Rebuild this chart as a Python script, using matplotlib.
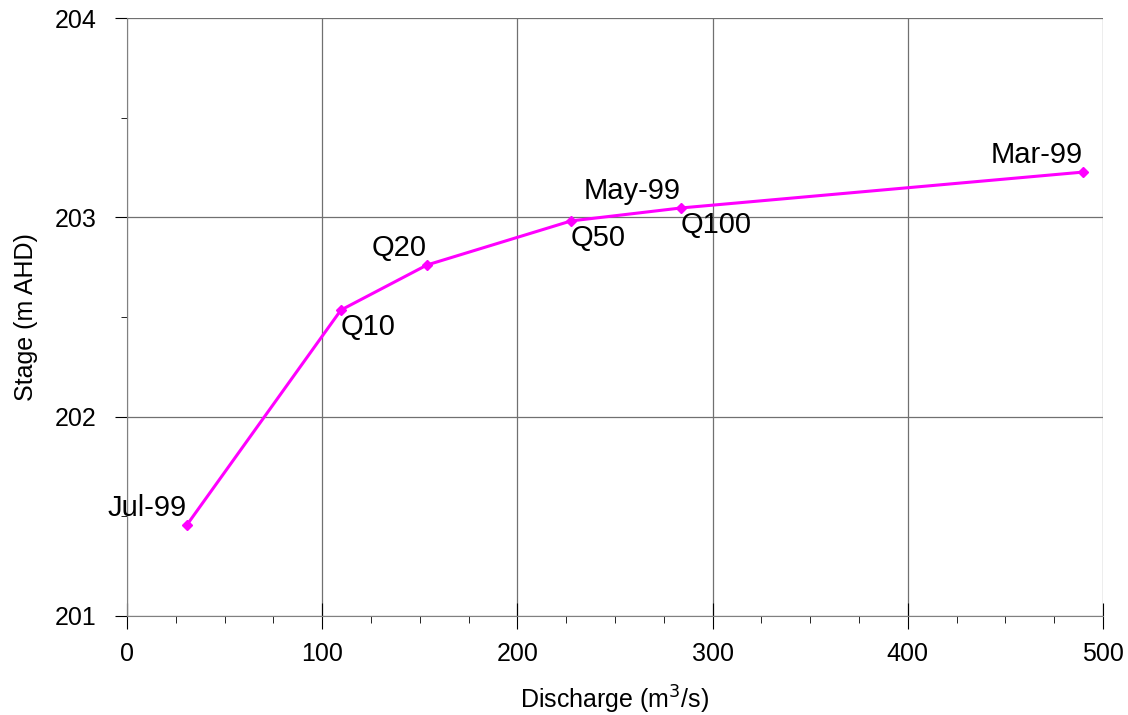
import matplotlib.pyplot as plt
from matplotlib.ticker import MultipleLocator

plt.rcParams['font.family'] = ['Liberation Sans', 'DejaVu Sans']

discharge = [30.7, 109.6, 153.7, 227.5, 283.8, 489.8]
stage = [201.457, 202.535, 202.761, 202.982, 203.047, 203.227]
labels = ['Jul-99', 'Q10', 'Q20', 'Q50', 'Q100', 'Mar-99']
# offsets in points and alignment for each label
label_pos = [(0, 2, 'right', 'bottom'), (0, -2, 'left', 'top'),
             (0, 2, 'right', 'bottom'), (0, -2, 'left', 'top'),
             (0, -2, 'left', 'top'), (0, 2, 'right', 'bottom')]
may_label = ('May-99', 283.8, 203.047)

fig = plt.figure(figsize=(11.28, 7.15), dpi=100)
ax = fig.add_axes([0.1126, 0.1385, 0.8652, 0.8363])

ax.plot(discharge, stage, color='#ff00ff', lw=2.2, marker='D', ms=5.5, zorder=3)

for x, y, lab, (dx, dy, ha, va) in zip(discharge, stage, labels, label_pos):
    ax.annotate(lab, (x, y), xytext=(dx, dy), textcoords='offset points',
                ha=ha, va=va, fontsize=21)
ax.annotate(may_label[0], (may_label[1], may_label[2]), xytext=(0, 2),
            textcoords='offset points', ha='right', va='bottom', fontsize=21)

ax.set_xlim(0, 500)
ax.set_ylim(201, 204)
ax.xaxis.set_major_locator(MultipleLocator(100))
ax.xaxis.set_minor_locator(MultipleLocator(25))
ax.yaxis.set_major_locator(MultipleLocator(1))
ax.yaxis.set_minor_locator(MultipleLocator(0.5))
ax.grid(True, which='major', color='#707070', lw=0.9)
ax.set_axisbelow(True)

for s in ['top', 'right']:
    ax.spines[s].set_visible(False)
for s in ['left', 'bottom']:
    ax.spines[s].set_color('#808080')

ax.tick_params(axis='x', which='major', direction='inout', length=19, labelsize=18, pad=9)
ax.tick_params(axis='x', which='minor', direction='out', length=5)
ax.tick_params(axis='y', which='major', direction='out', length=9, labelsize=18, pad=13)
ax.tick_params(axis='y', which='minor', direction='out', length=4.5)

ax.set_xlabel('Discharge (m$^3$/s)', fontsize=18, labelpad=13)
ax.set_ylabel('Stage (m AHD)', fontsize=18, labelpad=12)

fig.savefig('out.png', dpi=100)
